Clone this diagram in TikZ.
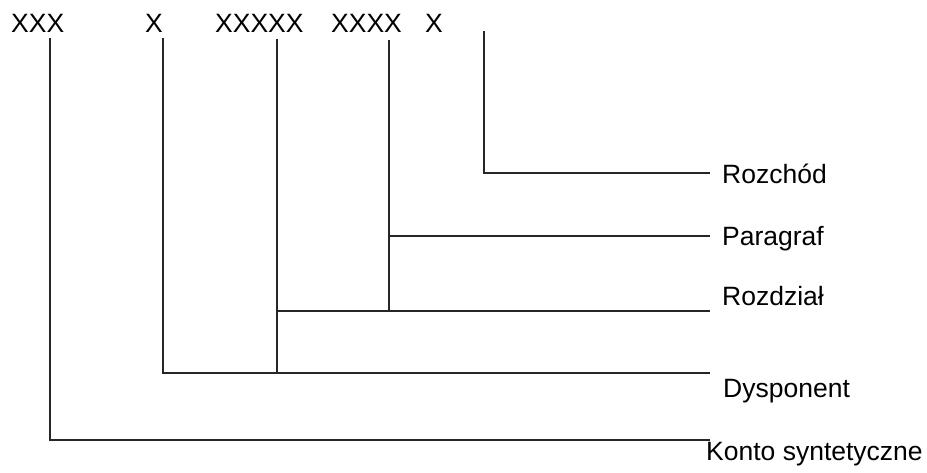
\documentclass[tikz,border=0pt]{standalone}
\usepackage{fontspec}
\setmainfont{Liberation Sans}
\usepackage{tikz}
\usetikzlibrary{positioning,calc}

\begin{document}
\begin{tikzpicture}[
        x=1pt, y=-1pt,
        code/.style={inner sep=0pt, anchor=base west, font=\fontsize{26.5}{31}\selectfont},
        lbl/.style={inner sep=0pt, anchor=base west, font=\fontsize{26.5}{31}\selectfont},
        link/.style={line width=1.5pt, color=black!85}
    ]
        \useasboundingbox (0,0) rectangle (927,472);

        % Code groups
        \node[code] (konto) at (11, 32) {XXX};
        \node[code] (dysp) at (145, 32) {X};
        \node[code] (rozdz) at (215, 32) {XXXXX};
        \node[code] (par) at (331, 32) {XXXX};
        \node[code] (rozch) at (425, 32) {X};

        % Line tops
        \coordinate (t1) at (50, 38);
        \coordinate (t2) at (163, 38);
        \coordinate (t3) at (277, 39);
        \coordinate (t4) at (389, 40);
        \coordinate (t5) at (484, 31);

        % Line ends
        \coordinate (e1) at (710, 440);
        \coordinate (e2) at (710, 373);
        \coordinate (e3) at (710, 311);
        \coordinate (e4) at (710, 236);
        \coordinate (e5) at (710, 173);

        % Labels
        \node[lbl] (lkonto) at (706, 460) {Konto syntetyczne};
        \node[lbl] (ldysp) at (723, 397) {Dysponent};
        \node[lbl] (lrozdz) at (722, 305) {Rozdział};
        \node[lbl] (lpar) at (722, 245) {Paragraf};
        \node[lbl] (lrozch) at (722, 183) {Rozchód};

        % Connectors
        \draw[link] (t1) |- (e1);
        \draw[link] (t2) |- (e2);
        \draw[link] (t3) -- (t3 |- e2);
        \draw[link] (t3 |- e3) -- (e3);
        \draw[link] (t4) -- (t4 |- e3);
        \draw[link] (t4 |- e4) -- (e4);
        \draw[link] (t5) |- (e5);
    \end{tikzpicture}
\end{document}
